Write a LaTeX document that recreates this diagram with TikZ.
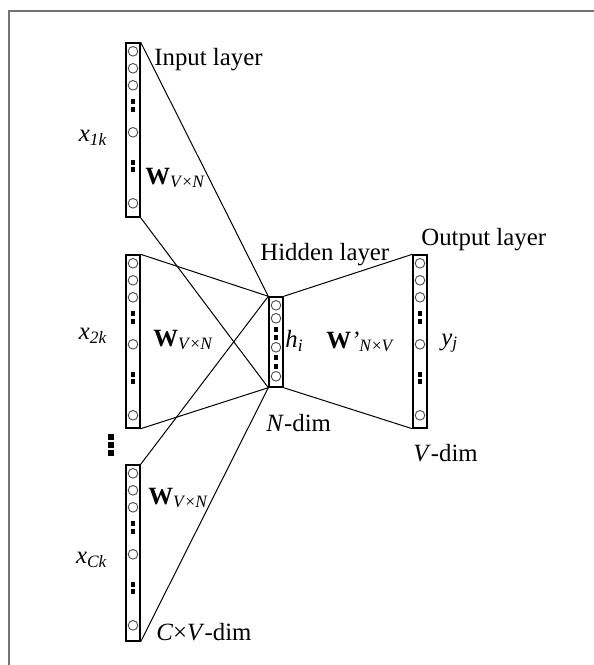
\documentclass[tikz,border=0pt]{standalone}
\usepackage{fontspec}
\setmainfont{Liberation Serif}
\usetikzlibrary{calc,positioning}
\tikzset{>=latex}
\tikzset{layerbox/.style={draw, rectangle, line width=0.7pt, minimum width=7pt, inner sep=0pt}}
\tikzset{neuron/.style={draw=black!70, line width=0.45pt}}
\tikzset{wire/.style={line width=0.5pt}}
\tikzset{lbl/.style={anchor=west, inner sep=0pt, font=\fontsize{12.4}{15}\selectfont}}
\tikzset{frame/.style={draw=black!55, line width=0.8pt}}

\begin{document}
\begin{tikzpicture}[x=0.5pt, y=-0.5pt]
  \useasboundingbox (0,0) rectangle (594,665);
  \draw[frame] (9,665) -- (9,11) -- (594,11);

  % layers
  \node[layerbox, minimum height=87pt] (in1) at (133,130) {};
  \node[layerbox, minimum height=86.5pt] (in2) at (133,341.5) {};
  \node[layerbox, minimum height=88pt] (in3) at (133,553) {};
  \node[layerbox, minimum height=45pt] (hid) at (276,342) {};
  \node[layerbox, minimum height=86.5pt] (out) at (420,341.5) {};

  % units inside the layers
  \foreach \b in {in1,in2,in3,out} {
    \foreach \d in {9,26,43,90,161}
      \draw[neuron] ($(\b.north)+(0,\d)$) circle (2.4pt);
    \foreach \d in {59,67,120,127}
      \fill ($(\b.north)+(0,\d)$) +(-1.2pt,-1.2pt) rectangle +(1.2pt,1.2pt);
  }
  \foreach \d in {9,22,51,80}
    \draw[neuron] ($(hid.north)+(0,\d)$) circle (2.4pt);
  \foreach \d in {33,41,61,70}
    \fill ($(hid.north)+(0,\d)$) +(-1.2pt,-1.2pt) rectangle +(1.2pt,1.2pt);

  % more context words
  \foreach \y in {437,445,453}
    \fill (111,\y) +(-1.5pt,-1.5pt) rectangle +(1.5pt,1.5pt);

  % weights
  \foreach \b in {in1,in2,in3} {
    \draw[wire] (\b.north east) -- (hid.north west);
    \draw[wire] (\b.south east) -- (hid.south west);
  }
  \draw[wire] (hid.north east) -- (out.north west);
  \draw[wire] (hid.south east) -- (out.south west);

  % labels
  \node[lbl] (tin) at (154,60) {Input layer};
  \node[lbl] (thid) at (260,255) {Hidden layer};
  \node[lbl] (tout) at (421,240) {Output layer};
  \node[lbl, anchor=east] (x1) at (108,138) {\textit{x}\textsubscript{\textit{1k}}};
  \node[lbl, anchor=east] (x2) at (108,336) {\textit{x}\textsubscript{\textit{2k}}};
  \node[lbl, anchor=east] (x3) at (108,560) {\textit{x}\textsubscript{\textit{Ck}}};
  \node[lbl] (w1) at (145,178) {\textbf{W}\textsubscript{\textit{V}×\textit{N}}};
  \node[lbl] (w2) at (153,340) {\textbf{W}\textsubscript{\textit{V}×\textit{N}}};
  \node[lbl] (w3) at (148,498) {\textbf{W}\textsubscript{\textit{V}×\textit{N}}};
  \node[lbl] (w4) at (326,342) {\textbf{W}\textit{'}\textsubscript{\textit{N}×\textit{V}}};
  \node[lbl] (h) at (285,341) {\textit{h}\textsubscript{\textit{i}}};
  \node[lbl] (yj) at (441,343) {\textit{y}\textsubscript{\textit{j}}};
  \node[lbl] (ndim) at (266,423) {\textit{N}-dim};
  \node[lbl] (vdim) at (413,453) {\textit{V}-dim};
  \node[lbl] (cvdim) at (156,632) {\textit{C}×\textit{V}-dim};
\end{tikzpicture}
\end{document}
